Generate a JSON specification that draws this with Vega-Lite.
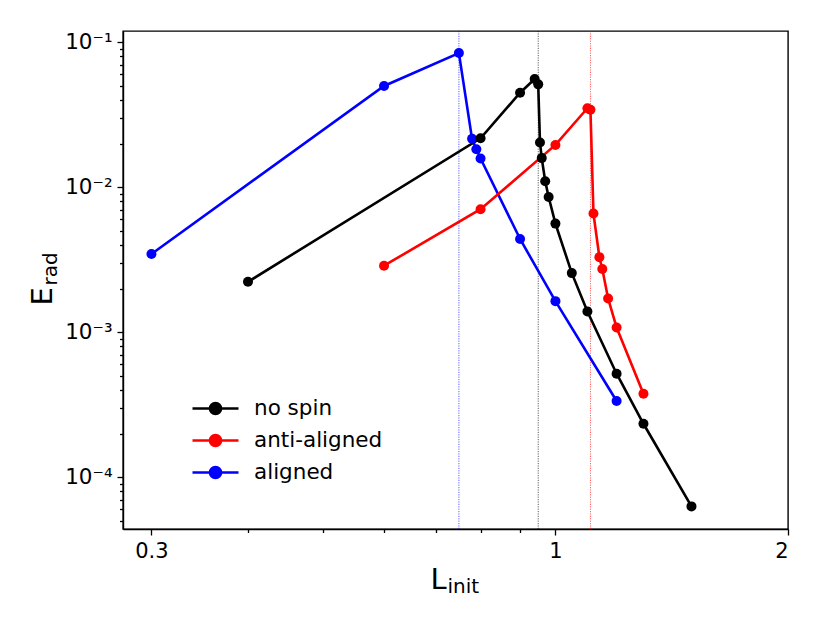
{
  "$schema": "https://vega.github.io/schema/vega-lite/v6.json",
  "width": 665,
  "height": 498,
  "autosize": {"type": "none"},
  "padding": {"left": 123, "top": 31, "right": 42, "bottom": 94},
  "config": {
    "font": "DejaVu Sans",
    "view": {"stroke": "black", "strokeWidth": 1.4},
    "axis": {
      "grid": false,
      "domainColor": "black",
      "domainWidth": 1.4,
      "tickColor": "black",
      "tickWidth": 1.3,
      "labelColor": "black",
      "labelFont": "DejaVu Sans",
      "titleColor": "black",
      "titleFont": "DejaVu Sans",
      "titleFontWeight": "normal"
    },
    "legend": {
      "orient": "none",
      "legendX": 81,
      "legendY": 366,
      "padding": 0,
      "title": null,
      "labelFont": "DejaVu Sans",
      "labelFontSize": 21.5,
      "labelColor": "black",
      "labelOffset": 27,
      "rowPadding": 9,
      "symbolSize": 400,
      "symbolStrokeWidth": 2.5,
      "symbolType": "M-2.3,0L2.3,0M0.56,0A0.56,0.56,0,1,1,-0.56,0A0.56,0.56,0,1,1,0.56,0Z"
    }
  },
  "datasets": {
    "runs": [
      {"series": "aligned", "L": 0.3, "E": 0.00347},
      {"series": "aligned", "L": 0.6, "E": 0.050},
      {"series": "aligned", "L": 0.75, "E": 0.0844},
      {"series": "aligned", "L": 0.78, "E": 0.0216},
      {"series": "aligned", "L": 0.79, "E": 0.0183},
      {"series": "aligned", "L": 0.8, "E": 0.0158},
      {"series": "aligned", "L": 0.9, "E": 0.0044},
      {"series": "aligned", "L": 1.0, "E": 0.00164},
      {"series": "aligned", "L": 1.2, "E": 0.000336},
      {"series": "anti-aligned", "L": 0.6, "E": 0.00288},
      {"series": "anti-aligned", "L": 0.8, "E": 0.00706},
      {"series": "anti-aligned", "L": 1.0, "E": 0.0196},
      {"series": "anti-aligned", "L": 1.1, "E": 0.0351},
      {"series": "anti-aligned", "L": 1.11, "E": 0.0343},
      {"series": "anti-aligned", "L": 1.12, "E": 0.00659},
      {"series": "anti-aligned", "L": 1.14, "E": 0.0033},
      {"series": "anti-aligned", "L": 1.15, "E": 0.00273},
      {"series": "anti-aligned", "L": 1.17, "E": 0.00171},
      {"series": "anti-aligned", "L": 1.2, "E": 0.00108},
      {"series": "anti-aligned", "L": 1.3, "E": 0.000377},
      {"series": "no spin", "L": 0.4, "E": 0.00223},
      {"series": "no spin", "L": 0.8, "E": 0.0218},
      {"series": "no spin", "L": 0.9, "E": 0.0449},
      {"series": "no spin", "L": 0.94, "E": 0.0559},
      {"series": "no spin", "L": 0.95, "E": 0.0513},
      {"series": "no spin", "L": 0.955, "E": 0.0204},
      {"series": "no spin", "L": 0.96, "E": 0.0159},
      {"series": "no spin", "L": 0.97, "E": 0.011},
      {"series": "no spin", "L": 0.98, "E": 0.00857},
      {"series": "no spin", "L": 1.0, "E": 0.00562},
      {"series": "no spin", "L": 1.05, "E": 0.00256},
      {"series": "no spin", "L": 1.1, "E": 0.00139},
      {"series": "no spin", "L": 1.2, "E": 0.000518},
      {"series": "no spin", "L": 1.3, "E": 0.000234},
      {"series": "no spin", "L": 1.5, "E": 0.000063}
    ],
    "peaks": [
      {"series": "aligned", "L": 0.75},
      {"series": "no spin", "L": 0.95},
      {"series": "anti-aligned", "L": 1.11}
    ]
  },
  "layer": [
    {
      "data": {"name": "peaks"},
      "mark": {"type": "rule", "strokeWidth": 0.9, "strokeDash": [1.2, 1.2], "opacity": 0.7},
      "encoding": {
        "x": {
          "field": "L", "type": "quantitative", "axis": null,
          "scale": {"type": "log", "domain": [0.2756, 2.0], "nice": false, "zero": false}
        },
        "color": {
          "field": "series", "type": "nominal",
          "scale": {"domain": ["no spin", "anti-aligned", "aligned"], "range": ["#000000", "#ff0000", "#0000ff"]},
          "legend": {"encode": {"symbols": {"update": {"fill": {"scale": "color", "field": "value"}, "stroke": {"scale": "color", "field": "value"}, "opacity": {"value": 1}, "strokeDash": {"value": []}}}}}
        }
      }
    },
    {
      "data": {"name": "runs"},
      "mark": {"type": "line", "strokeWidth": 2.6},
      "encoding": {
        "x": {
          "field": "L", "type": "quantitative",
          "scale": {"type": "log", "domain": [0.2756, 2.0], "nice": false, "zero": false},
          "axis": {
            "orient": "bottom", "values": [0.3, 1, 2], "format": "~g",
            "labelFontSize": 21, "labelPadding": 5, "tickSize": 6,
            "title": "L", "titleFontSize": 29, "titleX": 307, "titleY": 59,
            "titleAngle": 0, "titleAlign": "left", "titleBaseline": "alphabetic"
          }
        },
        "y": {
          "field": "E", "type": "quantitative",
          "scale": {"type": "log", "domain": [0.000044, 0.1197], "nice": false, "zero": false},
          "axis": {
            "orient": "left", "values": [0.0001, 0.001, 0.01, 0.1],
            "labelExpr": "'10' + (datum.value >= 0.05 ? '⁻¹' : datum.value >= 0.005 ? '⁻²' : datum.value >= 0.0005 ? '⁻³' : '⁻⁴')",
            "labelFontSize": 21.5, "labelPadding": 5, "tickSize": 6,
            "title": "E", "titleFontSize": 29, "titleX": -72, "titleY": 274,
            "titleAngle": 270, "titleAlign": "left", "titleBaseline": "alphabetic"
          }
        },
        "color": {
          "field": "series", "type": "nominal",
          "scale": {"domain": ["no spin", "anti-aligned", "aligned"], "range": ["#000000", "#ff0000", "#0000ff"]},
          "legend": {"encode": {"symbols": {"update": {"fill": {"scale": "color", "field": "value"}, "stroke": {"scale": "color", "field": "value"}, "opacity": {"value": 1}, "strokeDash": {"value": []}}}}}
        }
      }
    },
    {
      "data": {"name": "runs"},
      "mark": {"type": "point", "filled": true, "opacity": 1, "size": 100},
      "encoding": {
        "x": {
          "field": "L", "type": "quantitative",
          "scale": {"type": "log", "domain": [0.2756, 2.0], "nice": false, "zero": false},
          "axis": {
            "orient": "bottom", "values": [0.4, 0.5, 0.6, 0.7, 0.8, 0.9],
            "labels": false, "domain": false, "tickSize": 3.5,
            "title": "init", "titleFontSize": 20, "titleX": 324, "titleY": 63,
            "titleAngle": 0, "titleAlign": "left", "titleBaseline": "alphabetic"
          }
        },
        "y": {
          "field": "E", "type": "quantitative",
          "scale": {"type": "log", "domain": [0.000044, 0.1197], "nice": false, "zero": false},
          "axis": {
            "orient": "left",
            "values": [0.00005, 0.00006, 0.00007, 0.00008, 0.00009, 0.0002, 0.0003, 0.0004, 0.0005, 0.0006, 0.0007, 0.0008, 0.0009, 0.002, 0.003, 0.004, 0.005, 0.006, 0.007, 0.008, 0.009, 0.02, 0.03, 0.04, 0.05, 0.06, 0.07, 0.08, 0.09],
            "labels": false, "domain": false, "tickSize": 3.5,
            "title": "rad", "titleFontSize": 20, "titleX": -67, "titleY": 254,
            "titleAngle": 270, "titleAlign": "left", "titleBaseline": "alphabetic"
          }
        },
        "color": {
          "field": "series", "type": "nominal",
          "scale": {"domain": ["no spin", "anti-aligned", "aligned"], "range": ["#000000", "#ff0000", "#0000ff"]},
          "legend": {"encode": {"symbols": {"update": {"fill": {"scale": "color", "field": "value"}, "stroke": {"scale": "color", "field": "value"}, "opacity": {"value": 1}, "strokeDash": {"value": []}}}}}
        }
      }
    }
  ],
  "resolve": {"axis": {"x": "independent", "y": "independent"}}
}
